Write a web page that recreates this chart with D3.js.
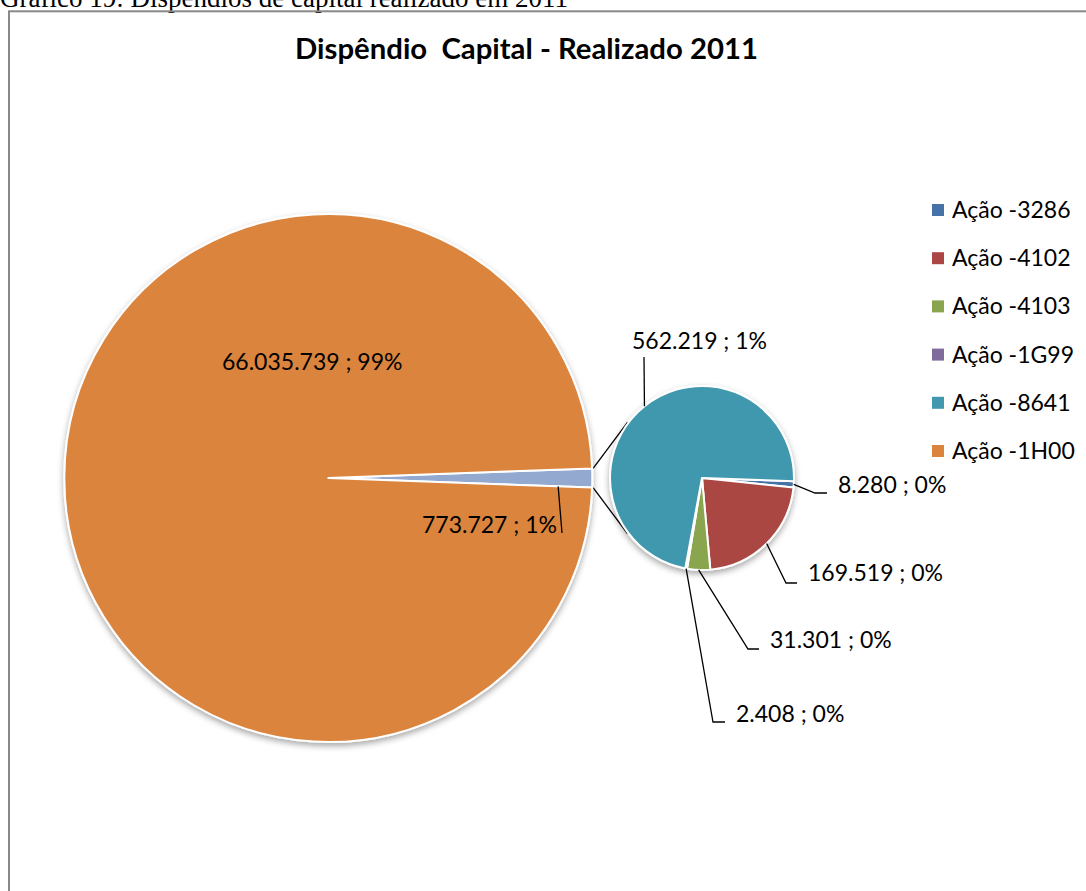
<!DOCTYPE html>
<html>
<head>
<meta charset="utf-8">
<script src="https://cdn.jsdelivr.net/npm/d3@7"></script>
<style>
  html, body { margin: 0; padding: 0; background: #fff; overflow: hidden; }
  svg { display: block; }
  .lbl { font-family: Lato, "Noto Sans", sans-serif; font-size: 23px; fill: #000; }
</style>
</head>
<body>
<svg id="chart" width="1086" height="891"></svg>
<script>
// Capital expenditure by action, 2011 (values in R$)
const categories = ["Ação -3286", "Ação -4102", "Ação -4103", "Ação -1G99", "Ação -8641", "Ação -1H00"];
const values     = [8280, 169519, 31301, 2408, 562219, 66035739];
const colors     = ["#4572A7", "#AA4643", "#89A54E", "#80699B", "#4198AF", "#DB843D"];
const otherName  = "Outros";
const otherColor = "#93A9CF";
const secondaryCount = 5;   // first five actions are broken out in the small pie

const titleText   = "Dispêndio  Capital - Realizado 2011";
const captionText = "Gráfico 19: Dispêndios de capital realizado em 2011";

// ---- layout ----
const W = 1086, H = 891;
const main = { cx: 328.3, cy: 478, r: 264 };
const sec  = { cx: 702, cy: 478, r: 92 };

// label placement (text anchor point + leader path end points)
const labelLayout = {
  "Ação -1H00": { x: 222, y: 370, anchor: "start" },
  "Outros":     { x: 557, y: 533, anchor: "end",   leader: [[562, 533]], leaderR: 230, edge: "end" },
  "Ação -8641": { x: 632, y: 349, anchor: "start", leader: [[644, 357]] },
  "Ação -3286": { x: 838, y: 493, anchor: "start", leader: [[815, 493], [827, 493]] },
  "Ação -4102": { x: 808, y: 581, anchor: "start", leader: [[786, 583], [797, 583]] },
  "Ação -4103": { x: 770, y: 648, anchor: "start", leader: [[748, 649], [759, 649]] },
  "Ação -1G99": { x: 736, y: 722, anchor: "start", leader: [[713, 722], [725, 722]] }
};

const svg = d3.select("#chart");

const defs = svg.append("defs");
const f = defs.append("filter").attr("id", "shadow")
  .attr("x", "-20%").attr("y", "-20%").attr("width", "140%").attr("height", "140%");
f.append("feDropShadow").attr("dx", 0).attr("dy", 3).attr("stdDeviation", 3)
  .attr("flood-color", "#000").attr("flood-opacity", 0.35);

// caption above the chart frame
svg.append("text")
  .attr("x", 0).attr("y", 7)
  .style("font-family", '"Liberation Serif", "Times New Roman", serif')
  .style("font-size", "27px")
  .text(captionText);

// chart frame
svg.append("rect")
  .attr("x", 9).attr("y", 11.3).attr("width", 1200).attr("height", 1000)
  .attr("fill", "none").attr("stroke", "#898989").attr("stroke-width", 2);

// title
svg.append("text")
  .attr("x", 526.5).attr("y", 59)
  .attr("text-anchor", "middle")
  .style("font-family", 'Lato, "Noto Sans", sans-serif')
  .style("font-weight", "bold")
  .style("font-size", "29.3px")
  .style("white-space", "pre")
  .text(titleText);

// ---- data ----
const fmtLocale = d3.formatLocale({ decimal: ",", thousands: ".", grouping: [3], currency: ["R$", ""] });
const fmtNum = fmtLocale.format(",d");
const grandTotal = d3.sum(values);
const pct = v => Math.round(v / grandTotal * 100) + "%";
const labelText = (v) => fmtNum(v) + " ; " + pct(v);

const secData = categories.slice(0, secondaryCount).map((c, i) => ({ name: c, value: values[i], color: colors[i] }));
const otherValue = d3.sum(secData, d => d.value);
const mainData = [
  { name: otherName, value: otherValue, color: otherColor },
  { name: categories[secondaryCount], value: values[secondaryCount], color: colors[secondaryCount] }
];

const otherAngle = otherValue / grandTotal * 2 * Math.PI;
const mainStart = Math.PI / 2 - otherAngle / 2;

const mainPie = d3.pie().sort(null).value(d => d.value)
  .startAngle(mainStart).endAngle(mainStart + 2 * Math.PI);
const secStart = Math.PI / 2 + otherAngle / 2;
const secPie = d3.pie().sort(null).value(d => d.value)
  .startAngle(secStart).endAngle(secStart + 2 * Math.PI);

const mainArcs = mainPie(mainData);
const secArcs = secPie(secData);

const mainArc = d3.arc().innerRadius(0).outerRadius(main.r);
const secArc = d3.arc().innerRadius(0).outerRadius(sec.r);

const polar = (c, r, a) => [c.cx + r * Math.sin(a), c.cy - r * Math.cos(a)];

// ---- connector lines between the pies ----
const otherArc = mainArcs[0];
const cornerTop = polar(main, main.r + 1, otherArc.startAngle);
const cornerBot = polar(main, main.r + 1, otherArc.endAngle);
function tangent(p, upper) {
  const dx = p[0] - sec.cx, dy = p[1] - sec.cy;
  const d = Math.hypot(dx, dy);
  const phi = Math.atan2(dy, dx);
  const alpha = Math.acos((sec.r + 1) / d);
  const cands = [phi + alpha, phi - alpha].map(t => [sec.cx + (sec.r + 1) * Math.cos(t), sec.cy + (sec.r + 1) * Math.sin(t)]);
  cands.sort((a, b) => a[1] - b[1]);
  return upper ? cands[0] : cands[1];
}
const conn = svg.append("g").attr("stroke", "#000").attr("stroke-width", 1.3).attr("fill", "none");
conn.append("line").attr("x1", cornerTop[0]).attr("y1", cornerTop[1])
  .attr("x2", tangent(cornerTop, true)[0]).attr("y2", tangent(cornerTop, true)[1]);
conn.append("line").attr("x1", cornerBot[0]).attr("y1", cornerBot[1])
  .attr("x2", tangent(cornerBot, false)[0]).attr("y2", tangent(cornerBot, false)[1]);

// ---- pies ----
const gMain = svg.append("g").attr("transform", `translate(${main.cx},${main.cy})`).attr("filter", "url(#shadow)");
gMain.selectAll("path").data(mainArcs).join("path")
  .attr("d", mainArc)
  .attr("fill", d => d.data.color)
  .attr("stroke", "#fff").attr("stroke-width", 2).attr("stroke-linejoin", "round");

const gSec = svg.append("g").attr("transform", `translate(${sec.cx},${sec.cy})`).attr("filter", "url(#shadow)");
gSec.selectAll("path").data(secArcs).join("path")
  .attr("d", secArc)
  .attr("fill", d => d.data.color)
  .attr("stroke", "#fff").attr("stroke-width", 2).attr("stroke-linejoin", "round");

// ---- data labels with leader lines ----
const gLbl = svg.append("g");
function addLabel(arcDatum, circle) {
  const L = labelLayout[arcDatum.data.name];
  if (!L) return;
  if (L.leader) {
    let start;
    if (L.edge === "end") start = polar(circle, L.leaderR, arcDatum.endAngle);
    else start = polar(circle, circle.r, (arcDatum.startAngle + arcDatum.endAngle) / 2);
    const pts = [start].concat(L.leader);
    gLbl.append("path")
      .attr("d", d3.line()(pts))
      .attr("fill", "none").attr("stroke", "#000").attr("stroke-width", 1.3);
  }
  gLbl.append("text").attr("class", "lbl")
    .attr("x", L.x).attr("y", L.y)
    .attr("text-anchor", L.anchor)
    .text(labelText(arcDatum.data.value));
}
mainArcs.forEach(a => addLabel(a, main));
secArcs.forEach(a => addLabel(a, sec));

// ---- legend ----
const legend = svg.append("g").attr("transform", "translate(932,210)");
const rowH = 48.2;
const items = legend.selectAll("g").data(categories).join("g")
  .attr("transform", (d, i) => `translate(0,${i * rowH})`);
items.append("rect")
  .attr("x", 0).attr("y", -6).attr("width", 12).attr("height", 12)
  .attr("fill", (d, i) => colors[i]);
items.append("text").attr("class", "lbl")
  .attr("x", 20).attr("y", 0).attr("dy", "0.35em")
  .text(d => d);
</script>
</body>
</html>
